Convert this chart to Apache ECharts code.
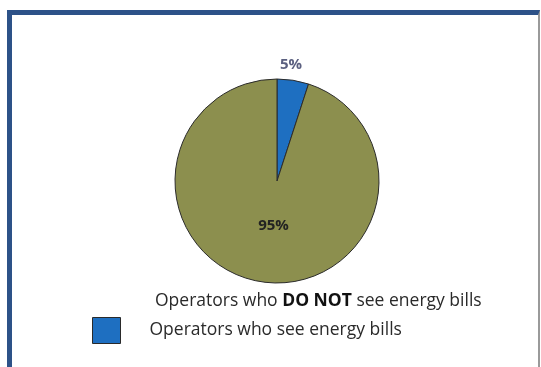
<!DOCTYPE html>
<html>
<head>
<meta charset="utf-8">
<script src="https://cdn.jsdelivr.net/npm/echarts@6/dist/echarts.min.js"></script>
<style>
  html, body { margin: 0; padding: 0; background: #fff; }
  #frame {
    position: absolute; left: 7px; top: 10px; width: 526px; height: 360px;
    border-left: 5px solid #2d5288; border-top: 5px solid #2d5288;
    border-right: 2px solid #9a9a9a;
  }
  #chart { position: absolute; left: 0; top: 0; width: 541px; height: 367px; }
</style>
</head>
<body>
<div id="frame"></div>
<div id="chart"></div>
<script>
// pie data
const names = ['Operators who see energy bills', 'Operators who DO NOT see energy bills'];
const values = [5, 95];
const colors = ['#1e6fc1', '#8c8f4e'];

const myChart = echarts.init(document.getElementById('chart'));
const font = '"Open Sans", "Liberation Sans", sans-serif';

const option = {
    animation: false,
    legend: [
        {
            // top legend line, no visible marker in the original
            data: [{name: names[1], icon: 'rect', itemStyle: {opacity: 0}}],
            left: 131, top: 291, padding: 0,
            itemWidth: 18, itemHeight: 18, itemGap: 0,
            formatter: function () { return 'Operators who {b|DO NOT} see energy bills'; },
            textStyle: {
                fontFamily: font, fontSize: 17.5, color: '#2a2a2a',
                rich: {b: {fontFamily: font, fontSize: 17.5, fontWeight: 'bold', color: '#111'}}
            }
        },
        {
            data: [{name: names[0], icon: 'rect'}],
            left: 92, top: 317, padding: 0,
            itemWidth: 28, itemHeight: 26, itemGap: 28,
            itemStyle: {borderColor: '#2a2a2a', borderWidth: 1},
            textStyle: {fontFamily: font, fontSize: 17.5, color: '#2a2a2a', padding: [0, 0, 0, 24]}
        }
    ],
    series: [
        {
            type: 'pie',
            center: [277, 181],
            radius: 102,
            startAngle: 90,
            clockwise: true,
            itemStyle: {borderColor: '#2b2b2b', borderWidth: 1},
            labelLine: {show: false},
            labelLayout: function (params) {
                return params.dataIndex === 0 ? {dx: -19, dy: -10} : {dx: 5, dy: -9};
            },
            data: values.map((v, i) => ({
                name: names[i],
                value: v,
                itemStyle: {color: colors[i]},
                label: i === 0 ? {
                    show: true, position: 'outside', formatter: '{c}%',
                    fontFamily: font, fontSize: 15, fontWeight: 'bold', color: '#5b6080'
                } : {
                    show: true, position: 'inner', formatter: '{c}%',
                    fontFamily: font, fontSize: 15, fontWeight: 'bold', color: '#222'
                },
                labelLine: {show: false, length: 6, length2: 0}
            }))
        }
    ]
};
myChart.setOption(option);
</script>
</body>
</html>
